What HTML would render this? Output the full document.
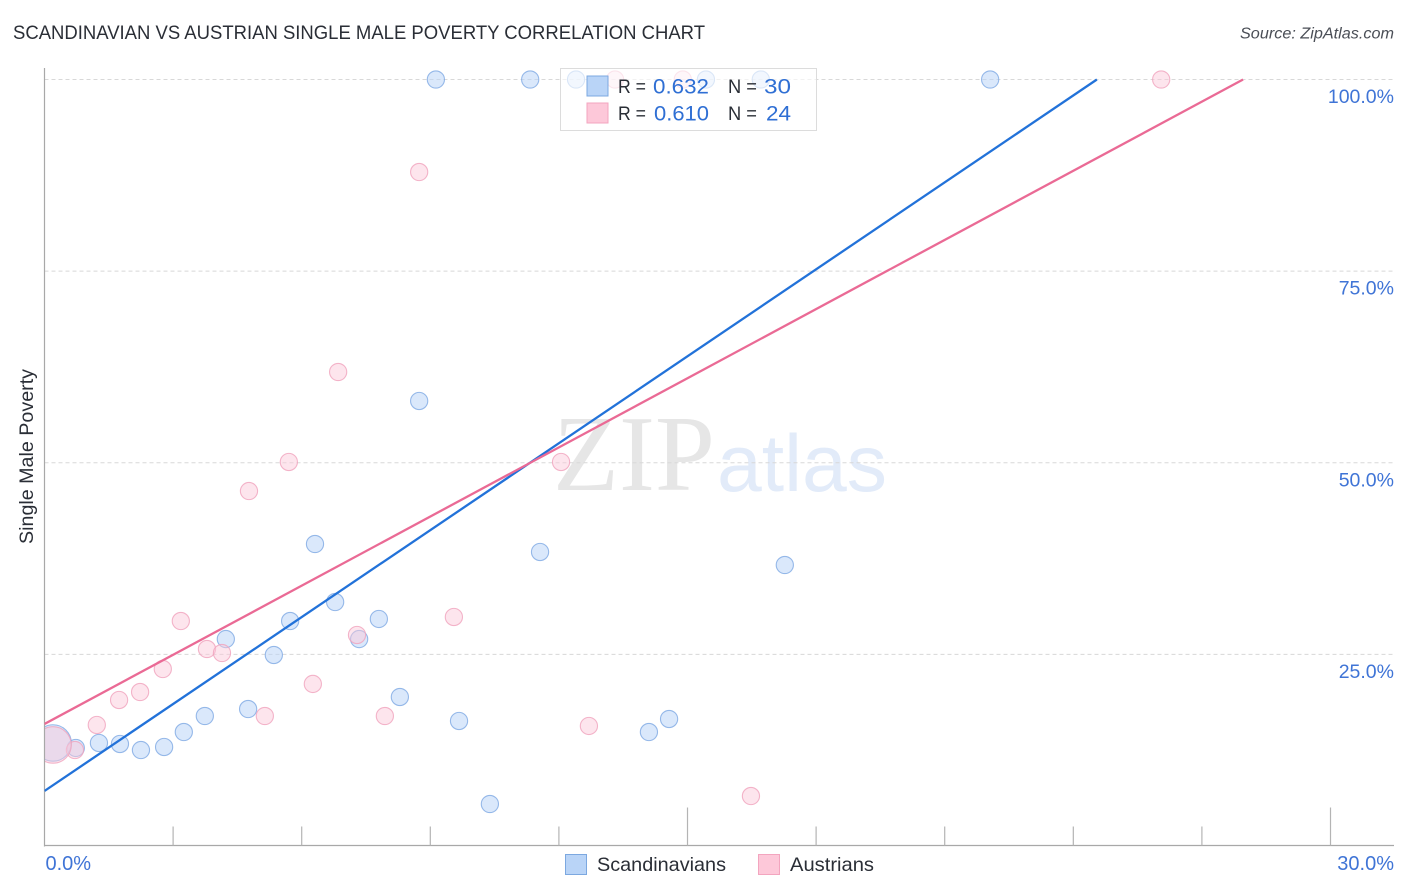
<!DOCTYPE html>
<html lang="en">
<head>
<meta charset="utf-8">
<title>Scandinavian vs Austrian Single Male Poverty Correlation Chart</title>
<style>
html,body{margin:0;padding:0;background:#fff;}
svg{display:block;font-family:"Liberation Sans",sans-serif;}
</style>
</head>
<body>
<svg id="chart" xmlns="http://www.w3.org/2000/svg" width="1406" height="892" viewBox="0 0 1406 892">
  <rect x="0" y="0" width="1406" height="892" fill="#fff"/>
  <defs><clipPath id="plot-clip"><rect x="44.5" y="60" width="1350" height="786"/></clipPath></defs>
  <text x="13" y="39" font-size="19" fill="#2a2e36" textLength="692" lengthAdjust="spacingAndGlyphs">SCANDINAVIAN VS AUSTRIAN SINGLE MALE POVERTY CORRELATION CHART</text>
  <text x="1394" y="38.500" font-size="15.500" font-style="italic" fill="#4a4e56" text-anchor="end" textLength="154" lengthAdjust="spacingAndGlyphs">Source: ZipAtlas.com</text>
  <text transform="translate(33,456.500) rotate(-90)" font-size="19" fill="#2a2e36" text-anchor="middle" textLength="175" lengthAdjust="spacingAndGlyphs">Single Male Poverty</text>
  <g id="watermark">
    <text x="553" y="490" font-family="'Liberation Serif',serif" font-size="108" fill="#e6e6e6" textLength="162" lengthAdjust="spacingAndGlyphs">ZIP</text>
    <text x="717" y="491" font-size="81" fill="#e2ebf9" textLength="170" lengthAdjust="spacingAndGlyphs">atlas</text>
  </g>
  <g id="grid"></g>
  <g id="points" clip-path="url(#plot-clip)"></g>
  <rect x="0" y="700" width="44" height="90" fill="#fff"/>
  <g id="axes"></g>
  <g id="trends" clip-path="url(#plot-clip)"></g>
  <g id="tick-labels"></g>
  <g id="legend-top">
    <rect x="560.500" y="68.500" width="256" height="62" fill="#fff" fill-opacity="0.65" stroke="#dcdcdc"/>
    <rect x="587" y="76" width="21" height="20" fill="#b9d4f7" stroke="#7ca8e0"/>
    <rect x="587" y="103" width="21" height="20" fill="#fdc8d9" stroke="#f3a5bf"/>
    <text x="618" y="93" font-size="19" fill="#2a2e36" textLength="28" lengthAdjust="spacingAndGlyphs">R =</text>
    <text x="653" y="93.500" font-size="21" fill="#2f6fd4" textLength="56" lengthAdjust="spacingAndGlyphs">0.632</text>
    <text x="728" y="93" font-size="19" fill="#2a2e36" textLength="29" lengthAdjust="spacingAndGlyphs">N =</text>
    <text x="764" y="93.500" font-size="21" fill="#2f6fd4" textLength="27" lengthAdjust="spacingAndGlyphs">30</text>
    <text x="618" y="120" font-size="19" fill="#2a2e36" textLength="28" lengthAdjust="spacingAndGlyphs">R =</text>
    <text x="654" y="120.500" font-size="21" fill="#2f6fd4" textLength="55" lengthAdjust="spacingAndGlyphs">0.610</text>
    <text x="728" y="120" font-size="19" fill="#2a2e36" textLength="29" lengthAdjust="spacingAndGlyphs">N =</text>
    <text x="766" y="120.500" font-size="21" fill="#2f6fd4" textLength="25" lengthAdjust="spacingAndGlyphs">24</text>
  </g>
  <g id="legend-bottom">
    <rect x="565.500" y="854.500" width="21" height="20" fill="#b9d4f7" stroke="#7ca8e0"/>
    <text x="597" y="871" font-size="19.500" fill="#2a2e36" textLength="129" lengthAdjust="spacingAndGlyphs">Scandinavians</text>
    <rect x="758.500" y="854.500" width="21" height="20" fill="#fdc8d9" stroke="#f3a5bf"/>
    <text x="790" y="871" font-size="19.500" fill="#2a2e36" textLength="84" lengthAdjust="spacingAndGlyphs">Austrians</text>
  </g>
</svg>
<script>
// Chart data (percent values)
const scandinavianX = [9.13,11.33,12.40,15.43,16.71,22.06,8.74,6.31,11.56,17.27,6.78,5.73,7.80,4.23,7.34,5.35,8.29,4.75,3.74,9.67,14.57,14.10,3.25,1.27,1.76,2.25,2.79,0.73,10.39,0.20];
const scandinavianY = [100,100,100,100,100,100,58.06,39.4,38.36,36.66,31.83,29.35,29.62,27.0,27.0,24.92,19.44,17.87,16.96,16.31,16.57,14.87,14.87,13.44,13.31,12.52,12.92,12.79,5.48,13.44];
const scandinavianWeight = [1,1,1,1,1,1,1,1,1,1,1,1,1,1,1,1,1,1,1,1,1,1,1,1,1,1,1,1,1,4.5];
const austrianX = [26.05,13.31,14.89,8.74,6.85,5.70,12.05,4.77,3.18,9.55,7.29,3.79,4.14,2.76,6.26,2.23,1.74,5.14,7.94,1.22,12.70,16.48,0.71,0.20];
const austrianY = [100,100,100,87.93,61.84,50.10,50.10,46.31,29.35,29.88,27.53,25.70,25.18,23.09,21.14,20.09,19.05,16.96,16.96,15.79,15.66,6.52,12.52,13.18];
const austrianWeight = [1,1,1,1,1,1,1,1,1,1,1,1,1,1,1,1,1,1,1,1,1,1,1,4.5];
const scandinavianTrend = [7.18, 100];
const scandinavianTrendEndX = [0, 24.55];
const austrianTrend = [15.92, 100];
const austrianTrendEndX = [0, 27.96];
const yTicks = [100, 75, 50, 25];
const yTickLabels = ['100.0%', '75.0%', '50.0%', '25.0%'];
const xTicks = [0, 3, 6, 9, 12, 15, 18, 21, 24, 27, 30];
const xMajorTicks = [15, 30];
const xEndLabels = ['0.0%', '30.0%'];
const xEndValues = [0, 30];

const NS = 'http://www.w3.org/2000/svg';
function xScale(v) { return 44.5 + v * 42.867; }
function yScale(v) { return 846 - v * 7.665; }
function make(tag, attrs, parent) {
  const el = document.createElementNS(NS, tag);
  for (const k in attrs) el.setAttribute(k, attrs[k]);
  parent.appendChild(el);
  return el;
}

const grid = document.getElementById('grid');
const axes = document.getElementById('axes');
const points = document.getElementById('points');
const trends = document.getElementById('trends');
const tickLabels = document.getElementById('tick-labels');

yTicks.forEach(function (t, i) {
  const line = make('line', {x1: 44.5, x2: 1394, y1: yScale(t), y2: yScale(t), stroke: '#d8d8d8', 'stroke-width': 1, 'stroke-dasharray': '4 3'}, grid);
  
  
  const label = make('text', {x: 1394, y: yScale(t) + 23.5, 'font-size': 19.5, fill: '#3f74d6', 'text-anchor': 'end'}, tickLabels);
  label.textContent = yTickLabels[i];
  
  
});

const yAxis = make('line', {x1: 44.5, x2: 44.5, y1: 68, y2: 846.5, stroke: '#a8a8a8', 'stroke-width': 1.2}, axes);


const xAxis = make('line', {x1: 44, x2: 1394, y1: 845.5, y2: 845.5, stroke: '#a8a8a8', 'stroke-width': 1.2}, axes);



xTicks.forEach(function (t) {
  if (t === 0) return;
  const top = xMajorTicks.indexOf(t) >= 0 ? 807.5 : 826.5;
  const tick = make('line', {x1: xScale(t), x2: xScale(t), y1: top, y2: 845.5, stroke: '#b4b4b4', 'stroke-width': 1.2}, axes);
  
  
});

xEndValues.forEach(function (v, i) {
  const label = make('text', {x: i === 0 ? xScale(v) + 1 : 1394, y: 870, 'font-size': 20, fill: '#3f74d6', 'text-anchor': i === 0 ? 'start' : 'end'}, tickLabels);
  label.textContent = xEndLabels[i];
  
  
});

function drawSeries(xs, ys, weights, fill, stroke, name, fillOpacity) {
  xs.forEach(function (x, i) {
    const c = make('circle', {cx: xScale(x), cy: yScale(ys[i]), r: 8.6 * Math.sqrt(weights[i]), fill: fill, 'fill-opacity': fillOpacity, stroke: stroke, 'stroke-width': 1.1, 'stroke-opacity': 0.8}, points);
    
    
  });
}
drawSeries(scandinavianX, scandinavianY, scandinavianWeight, '#bcd6f7', '#7ea9e3', 'scandinavian', 0.55);
drawSeries(austrianX, austrianY, austrianWeight, '#fbc8da', '#f0a3bd', 'austrian', 0.48);

const blueTrend = make('line', {x1: xScale(scandinavianTrendEndX[0]), y1: yScale(scandinavianTrend[0]), x2: xScale(scandinavianTrendEndX[1]), y2: yScale(scandinavianTrend[1]), stroke: '#2272d9', 'stroke-width': 2.3}, trends);


const pinkTrend = make('line', {x1: xScale(austrianTrendEndX[0]), y1: yScale(austrianTrend[0]), x2: xScale(austrianTrendEndX[1]), y2: yScale(austrianTrend[1]), stroke: '#ea6a95', 'stroke-width': 2.3}, trends);


</script>
</body>
</html>
